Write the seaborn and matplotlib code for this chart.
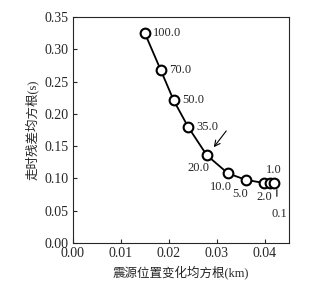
import pandas as pd
import matplotlib
matplotlib.use("Agg")
import matplotlib.pyplot as plt
import seaborn as sns

# data
rms_loc = [0.0150, 0.0183, 0.0210, 0.0240, 0.0279, 0.0323, 0.0360, 0.0398, 0.0410, 0.0419]
rms_res = [0.325, 0.268, 0.221, 0.180, 0.136, 0.108, 0.098, 0.093, 0.093, 0.093]
labels = ["100.0", "70.0", "50.0", "35.0", "20.0", "10.0", "5.0", "2.0", "1.0", "0.1"]

df = pd.DataFrame({"x": rms_loc, "y": rms_res, "lab": labels})

sns.set_style("ticks")
plt.rcParams['font.family'] = ['Liberation Serif', 'Noto Sans CJK SC']

fig = plt.figure(figsize=(3.14, 2.89), dpi=100)
ax = fig.add_axes([0.232, 0.159, 0.688, 0.782])

sns.lineplot(data=df, x="x", y="y", ax=ax, color="black", linewidth=1.3,
             marker="o", markersize=7, markerfacecolor="white",
             markeredgecolor="black", markeredgewidth=1.5, sort=False)

# label offsets (points) for each value
offsets = [(6, 0, "left", "center"), (6, 0, "left", "center"), (6, 0, "left", "center"),
           (6, 0, "left", "center"), (-6, -9, "center", "center"), (-5, -10, "center", "center"),
           (-4, -10, "center", "center"), (0, -10, "center", "center"), (3, 9, "center", "center"),
           (4, -22, "center", "center")]
for (x, y, t), (dx, dy, ha, va) in zip(zip(rms_loc, rms_res, labels), offsets):
    ax.annotate(t, (x, y), xytext=(dx, dy), textcoords="offset points",
                ha=ha, va=va, fontsize=9)

# small leader line for 0.1
ax.annotate("", xy=(0.0425, 0.087), xytext=(0.0425, 0.068),
            arrowprops=dict(arrowstyle="-", color="black", lw=0.8))
# arrow pointing at 20.0
ax.annotate("", xy=(0.0290, 0.145), xytext=(0.0323, 0.177),
            arrowprops=dict(arrowstyle="->", color="black", lw=0.8))

ax.set_xlim(0, 0.045)
ax.set_ylim(0, 0.35)
ax.set_xticks([0.00, 0.01, 0.02, 0.03, 0.04])
ax.set_yticks([0.00, 0.05, 0.10, 0.15, 0.20, 0.25, 0.30, 0.35])
ax.xaxis.set_major_formatter(matplotlib.ticker.FormatStrFormatter("%.2f"))
ax.yaxis.set_major_formatter(matplotlib.ticker.FormatStrFormatter("%.2f"))
ax.tick_params(direction="in", length=3, width=0.8, labelsize=10, pad=3)
for s in ax.spines.values():
    s.set_linewidth(0.8)

ax.set_xlabel("震源位置变化均方根(km)", fontsize=9)
ax.set_ylabel("走时残差均方根(s)", fontsize=9)

fig.savefig("out.png", dpi=100)
